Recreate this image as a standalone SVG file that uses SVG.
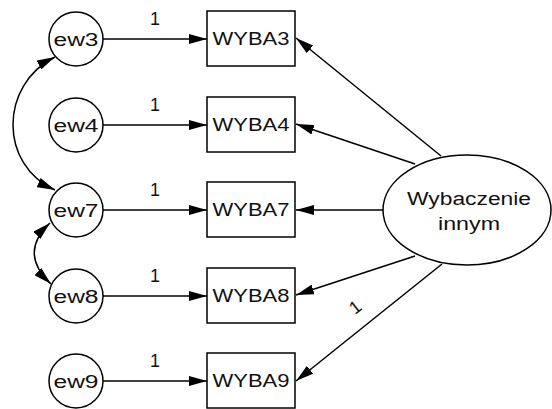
<svg xmlns="http://www.w3.org/2000/svg" width="552" height="409" viewBox="0 0 552 409">
<defs>
<marker id="ah" viewBox="0 0 18 10" refX="18" refY="5" markerWidth="18" markerHeight="10" markerUnits="userSpaceOnUse" orient="auto-start-reverse">
<path d="M0,0 L18,5 L0,10 z" fill="#000"/>
</marker>
<style>
.n{fill:#fff;stroke:#000;stroke-width:1.5}
.t{font-family:"Liberation Sans",Arial,sans-serif;font-size:18px;fill:#111;text-anchor:middle}
.l{font-family:"Liberation Sans",Arial,sans-serif;font-size:18px;fill:#111;text-anchor:middle}
.c{fill:none;stroke:#000;stroke-width:1.5}
</style>
</defs>
<rect width="552" height="409" fill="#fff"/>
<g id="connectors">
<line class="c" x1="103" y1="39" x2="207" y2="39" marker-end="url(#ah)"/>
<line class="c" x1="103" y1="125" x2="207" y2="125" marker-end="url(#ah)"/>
<line class="c" x1="103" y1="210" x2="207" y2="210" marker-end="url(#ah)"/>
<line class="c" x1="103" y1="296" x2="207" y2="296" marker-end="url(#ah)"/>
<line class="c" x1="103" y1="381" x2="207" y2="381" marker-end="url(#ah)"/>
<line class="c" x1="441" y1="156" x2="296" y2="38" marker-end="url(#ah)"/>
<line class="c" x1="415" y1="164" x2="296" y2="124" marker-end="url(#ah)"/>
<line class="c" x1="383" y1="210" x2="296" y2="210" marker-end="url(#ah)"/>
<line class="c" x1="415" y1="256" x2="296" y2="295" marker-end="url(#ah)"/>
<line class="c" x1="442" y1="264" x2="296" y2="381" marker-end="url(#ah)"/>
<path class="c" d="M55,57 C-1,85 -1,165 55,190" marker-start="url(#ah)" marker-end="url(#ah)"/>
<path class="c" d="M50,223 Q18,253 51,284" marker-start="url(#ah)" marker-end="url(#ah)"/>
<text class="l" x="155" y="25">1</text>
<text class="l" x="155" y="111">1</text>
<text class="l" x="155" y="196">1</text>
<text class="l" x="155" y="282">1</text>
<text class="l" x="155" y="367">1</text>
<text class="l" transform="translate(359,312) rotate(-38)">1</text>
</g>
<g id="ew3"><circle class="n" cx="76" cy="39" r="27"/><text class="t" x="76" y="46" textLength="45" lengthAdjust="spacingAndGlyphs">ew3</text></g>
<g id="ew4"><circle class="n" cx="76" cy="125" r="27"/><text class="t" x="76" y="132" textLength="45" lengthAdjust="spacingAndGlyphs">ew4</text></g>
<g id="ew7"><circle class="n" cx="76" cy="210" r="27"/><text class="t" x="76" y="217" textLength="45" lengthAdjust="spacingAndGlyphs">ew7</text></g>
<g id="ew8"><circle class="n" cx="76" cy="296" r="27"/><text class="t" x="76" y="303" textLength="45" lengthAdjust="spacingAndGlyphs">ew8</text></g>
<g id="ew9"><circle class="n" cx="76" cy="381" r="27"/><text class="t" x="76" y="388" textLength="45" lengthAdjust="spacingAndGlyphs">ew9</text></g>
<g id="WYBA3"><rect class="n" x="207" y="11" width="88" height="55"/><text class="t" x="251" y="45" textLength="77" lengthAdjust="spacingAndGlyphs">WYBA3</text></g>
<g id="WYBA4"><rect class="n" x="207" y="97" width="88" height="55"/><text class="t" x="251" y="131" textLength="77" lengthAdjust="spacingAndGlyphs">WYBA4</text></g>
<g id="WYBA7"><rect class="n" x="207" y="182" width="88" height="55"/><text class="t" x="251" y="216" textLength="77" lengthAdjust="spacingAndGlyphs">WYBA7</text></g>
<g id="WYBA8"><rect class="n" x="207" y="268" width="88" height="55"/><text class="t" x="251" y="302" textLength="77" lengthAdjust="spacingAndGlyphs">WYBA8</text></g>
<g id="WYBA9"><rect class="n" x="207" y="353" width="88" height="55"/><text class="t" x="251" y="387" textLength="77" lengthAdjust="spacingAndGlyphs">WYBA9</text></g>
<g id="Wybaczenie"><ellipse class="n" cx="467" cy="210" rx="84" ry="55"/><text class="t" x="469" y="205" textLength="124" lengthAdjust="spacingAndGlyphs">Wybaczenie</text><text class="t" x="469" y="230" textLength="62" lengthAdjust="spacingAndGlyphs">innym</text></g>
</svg>
